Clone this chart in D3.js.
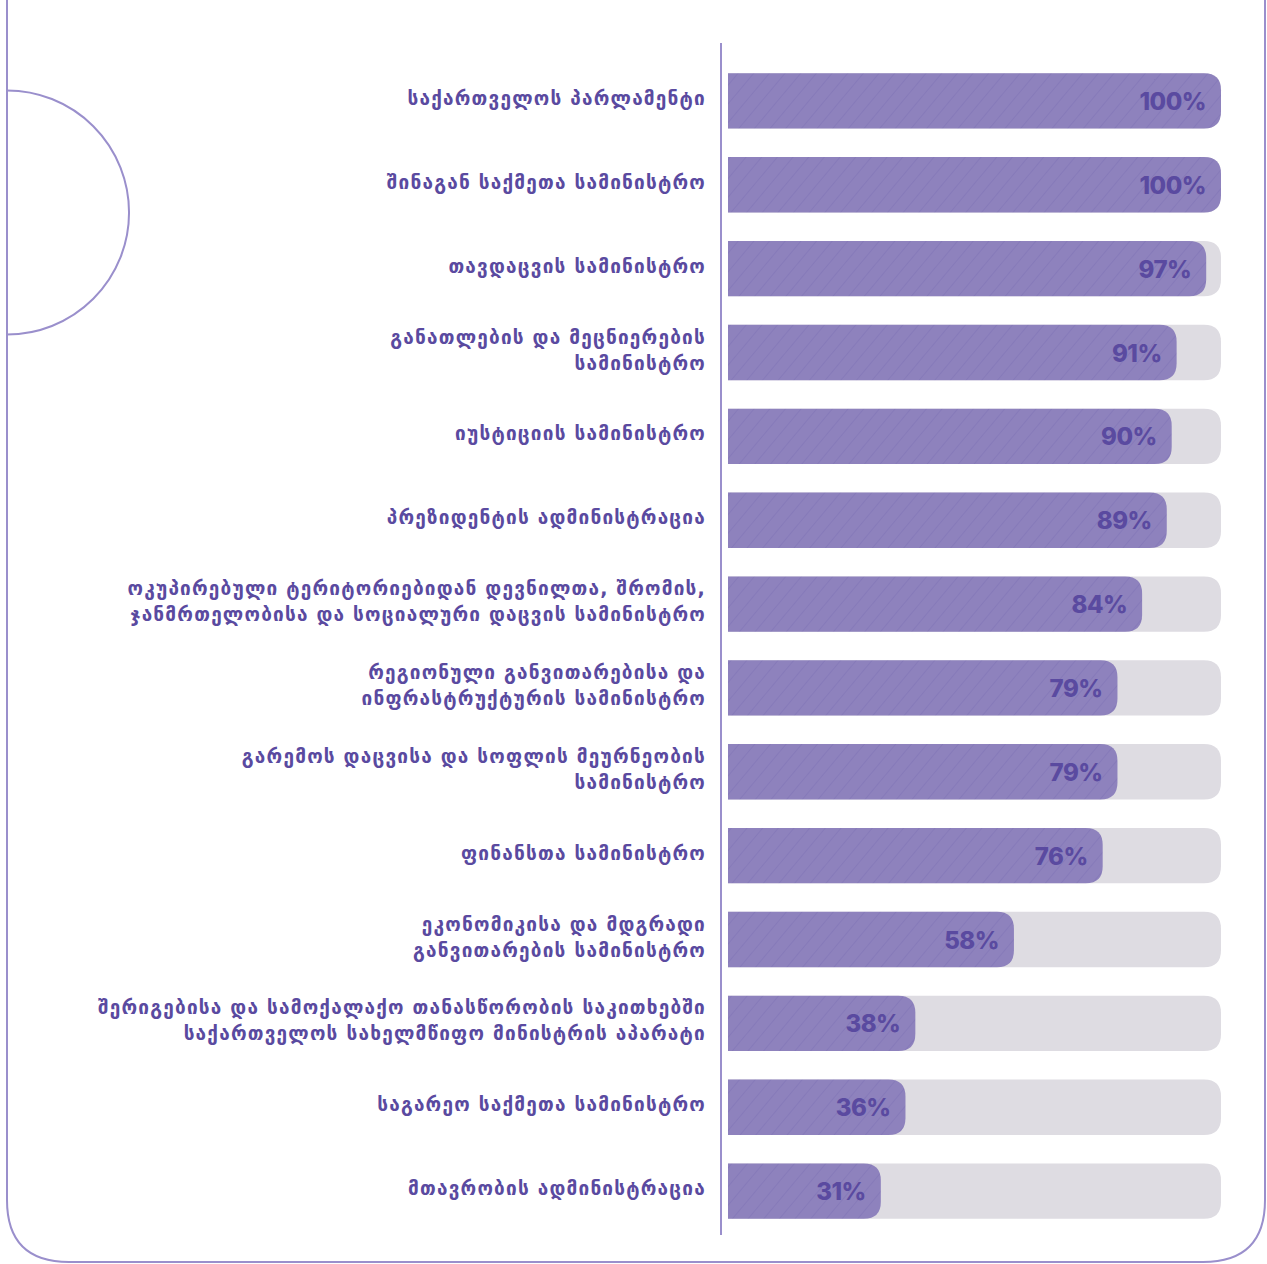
<!DOCTYPE html>
<html>
<head>
<meta charset="utf-8">
<script src="https://cdn.jsdelivr.net/npm/d3@7"></script>
<style>
  body { margin: 0; background: #fff; }
</style>
</head>
<body>
<div id="chart"></div>
<script>
// ministries (top to bottom), each label split into lines
const institutions = [
  ["საქართველოს პარლამენტი"],
  ["შინაგან საქმეთა სამინისტრო"],
  ["თავდაცვის სამინისტრო"],
  ["განათლების და მეცნიერების", "სამინისტრო"],
  ["იუსტიციის სამინისტრო"],
  ["პრეზიდენტის ადმინისტრაცია"],
  ["ოკუპირებული ტერიტორიებიდან დევნილთა, შრომის,", "ჯანმრთელობისა და სოციალური დაცვის სამინისტრო"],
  ["რეგიონული განვითარებისა და", "ინფრასტრუქტურის სამინისტრო"],
  ["გარემოს დაცვისა და სოფლის მეურნეობის", "სამინისტრო"],
  ["ფინანსთა სამინისტრო"],
  ["ეკონომიკისა და მდგრადი", "განვითარების სამინისტრო"],
  ["შერიგებისა და სამოქალაქო თანასწორობის საკითხებში", "საქართველოს სახელმწიფო მინისტრის აპარატი"],
  ["საგარეო საქმეთა სამინისტრო"],
  ["მთავრობის ადმინისტრაცია"]
];
const shares = [100, 100, 97, 91, 90, 89, 84, 79, 79, 76, 58, 38, 36, 31];

const width = 1267;
const height = 1264;
const purple = "#8e82bd";
const ink = "#5a4aa0";

const svg = d3.select("#chart")
              .append("svg")
              .attr("width", width)
              .attr("height", height);

const defs = svg.append("defs");
const hatch = defs.append("pattern")
                  .attr("id", "hatch")
                  .attr("patternUnits", "userSpaceOnUse")
                  .attr("width", 12)
                  .attr("height", 12)
                  .attr("patternTransform", "rotate(40)");
hatch.append("rect").attr("width", 12).attr("height", 12).attr("fill", purple);
hatch.append("line")
     .attr("x1", 0).attr("y1", 0).attr("x2", 0).attr("y2", 12)
     .attr("stroke", "#8175b6").attr("stroke-width", 1.2);

// decorative frame
svg.append("path")
   .attr("d", "M7,-10 L7,1200 Q7,1262 69,1262 L1203,1262 Q1265,1262 1265,1200 L1265,-10")
   .attr("fill", "none")
   .attr("stroke", "#9a8fcc")
   .attr("stroke-width", 2);

svg.append("path")
   .attr("d", d3.arc()({ innerRadius: 122, outerRadius: 122, startAngle: 0, endAngle: Math.PI }))
   .attr("transform", "translate(7,212.5)")
   .attr("fill", "none")
   .attr("stroke", "#9a8fcc")
   .attr("stroke-width", 2);

const x = d3.scaleLinear()
            .domain([0, 100])
            .range([728, 1221]);

const y = d3.scaleBand()
            .domain(d3.range(shares.length))
            .range([59, 1233])
            .paddingInner(0.34)
            .paddingOuter(0.17);

const bh = y.bandwidth();

// axis line
svg.append("line")
   .attr("x1", 721).attr("x2", 721)
   .attr("y1", 43).attr("y2", 1235)
   .attr("stroke", "#9a8fcc")
   .attr("stroke-width", 2);

function rightRounded(x0, y0, w, h, r) {
    r = Math.min(r, w);
    return `M${x0},${y0} H${x0 + w - r} Q${x0 + w},${y0} ${x0 + w},${y0 + r} V${y0 + h - r} Q${x0 + w},${y0 + h} ${x0 + w - r},${y0 + h} H${x0} Z`;
}

const rows = svg.selectAll("g.row")
                .data(shares)
                .join("g")
                .attr("class", "row");

rows.append("path")
    .attr("d", (d, i) => rightRounded(x(0), y(i), x(100) - x(0), bh, 17))
    .attr("fill", "#dedce2");

rows.append("path")
    .attr("d", (d, i) => rightRounded(x(0), y(i), x(d) - x(0), bh, 17))
    .attr("fill", "url(#hatch)");

rows.append("text")
    .attr("x", d => x(d) - 15)
    .attr("y", (d, i) => y(i) + bh / 2 + 9)
    .attr("text-anchor", "end")
    .attr("font-family", "Inter, Lato, sans-serif")
    .attr("font-weight", 800)
    .attr("font-size", 24)
    .attr("letter-spacing", -0.5)
    .attr("fill", ink)
    .text(d => d + "%");

const labels = svg.selectAll("text.label")
                  .data(institutions)
                  .join("text")
                  .attr("class", "label")
                  .attr("text-anchor", "end")
                  .attr("font-family", "DejaVu Sans, sans-serif")
                  .attr("font-weight", "bold")
                  .attr("font-size", 19)
                  .attr("letter-spacing", 1.2)
                  .attr("fill", ink);

labels.each(function(lines, i) {
    const cy = y(i) + bh / 2;
    const top = cy - (lines.length - 1) * 13 + 4;
    d3.select(this).selectAll("tspan")
      .data(lines)
      .join("tspan")
      .attr("x", 706)
      .attr("y", (l, j) => top + j * 26)
      .text(l => l);
});
</script>
</body>
</html>
